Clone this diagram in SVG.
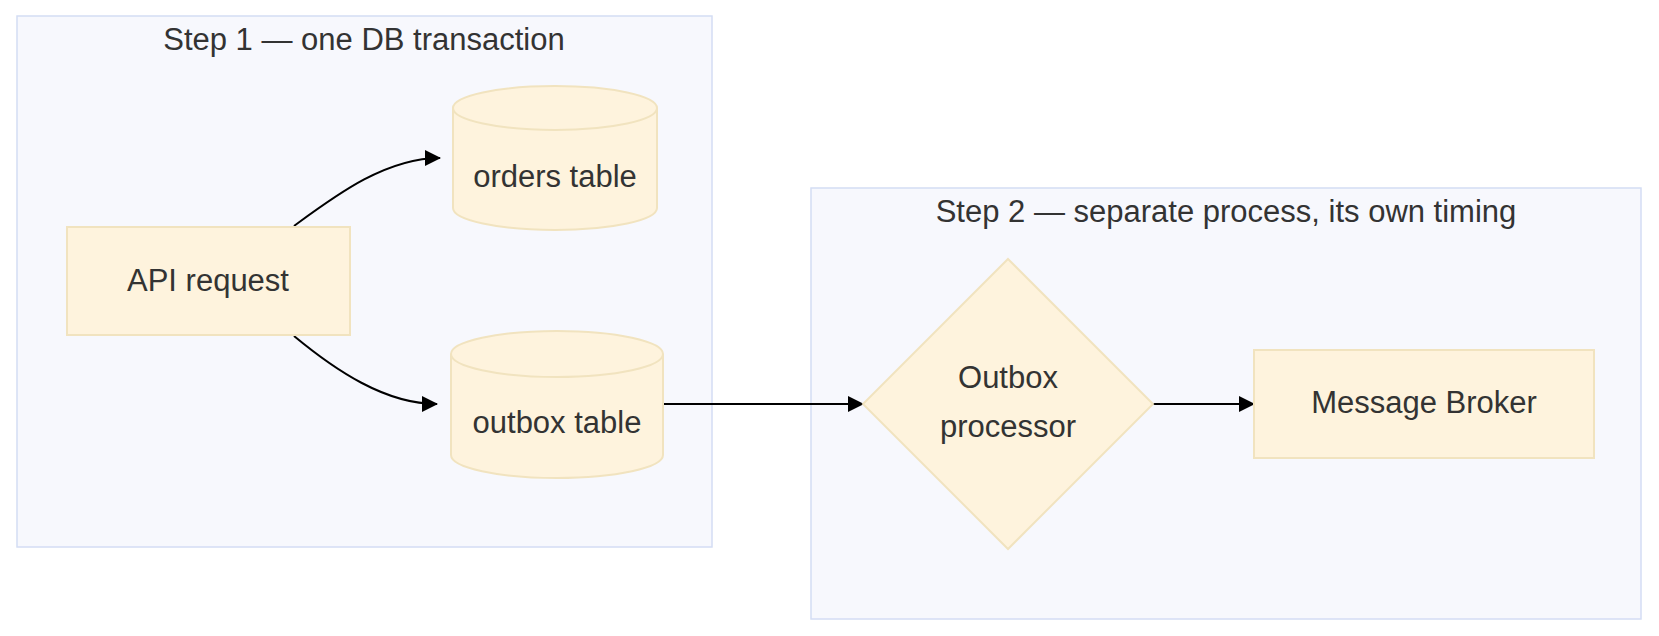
<svg xmlns="http://www.w3.org/2000/svg" width="1659" height="636" viewBox="0 0 1659 636">
<style>
.cluster{fill:#f7f8fd;stroke:#d4ddf4;stroke-width:1.5}
.node{fill:#fef3dd;stroke:#f1e3bf;stroke-width:2}
.title,.label{font-family:"Liberation Sans",Arial,sans-serif;fill:#333;text-anchor:middle}
.title{font-size:31px}
.label{font-size:31px}
.edge{fill:none;stroke:#000;stroke-width:2}
</style>
<defs>
<marker id="arrow" viewBox="0 0 16 16" refX="15" refY="8" markerWidth="16" markerHeight="16" markerUnits="userSpaceOnUse" orient="auto">
<path d="M0,0 L16,8 L0,16 Z" fill="#000"/>
</marker>
</defs>
<rect width="1659" height="636" fill="#fff"/>
<g id="cluster-step1">
<rect class="cluster" x="17" y="16" width="695" height="531"/>
<text class="title" x="364" y="50">Step 1 — one DB transaction</text>
</g>
<g id="cluster-step2">
<rect class="cluster" x="811" y="188" width="830" height="431"/>
<text class="title" x="1226" y="222">Step 2 — separate process, its own timing</text>
</g>
<g id="connectors">
<path class="edge" d="M294,226 C335,196 385,158 440,158" marker-end="url(#arrow)"/>
<path class="edge" d="M294,336 C335,370 385,404 437,404" marker-end="url(#arrow)"/>
<path class="edge" d="M663,404 L863,404" marker-end="url(#arrow)"/>
<path class="edge" d="M1153,404 L1254,404" marker-end="url(#arrow)"/>
</g>
<g id="node-api">
<rect class="node" x="67" y="227" width="283" height="108"/>
<text class="label" x="208" y="291">API request</text>
</g>
<g id="node-orders">
<path class="node" d="M453,108 A102,22 0 0 1 657,108 L657,208 A102,22 0 0 1 453,208 Z"/>
<path class="node" d="M453,108 A102,22 0 0 0 657,108" fill="none"/>
<text class="label" x="555" y="187">orders table</text>
</g>
<g id="node-outbox">
<path class="node" d="M451,354 A106,23 0 0 1 663,354 L663,455 A106,23 0 0 1 451,455 Z"/>
<path class="node" d="M451,354 A106,23 0 0 0 663,354" fill="none"/>
<text class="label" x="557" y="433">outbox table</text>
</g>
<g id="node-processor">
<polygon class="node" points="1008,259 1153,404 1008,549 863,404"/>
<text class="label" x="1008" y="388">Outbox</text>
<text class="label" x="1008" y="437">processor</text>
</g>
<g id="node-broker">
<rect class="node" x="1254" y="350" width="340" height="108"/>
<text class="label" x="1424" y="413">Message Broker</text>
</g>
</svg>
